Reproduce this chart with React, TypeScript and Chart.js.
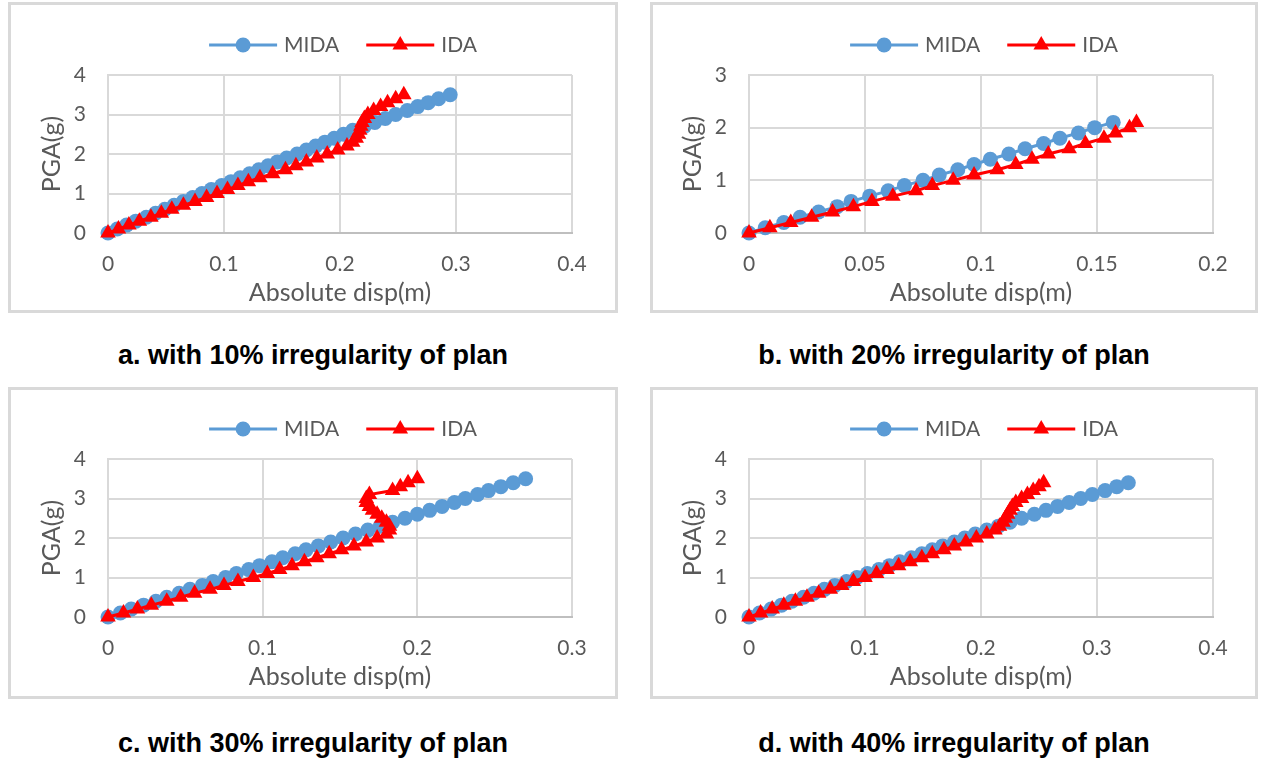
import React, { useEffect, useRef } from "react";
import { Chart, registerables } from "chart.js";

Chart.register(...registerables);

// ---- Data: PGA levels (g) and absolute displacement (m) per plan irregularity ----

const pgaA = [0, 0.1, 0.2, 0.3, 0.4, 0.5, 0.6, 0.7, 0.8, 0.9, 1, 1.1, 1.2, 1.3, 1.4, 1.5, 1.6, 1.7, 1.8, 1.9, 2, 2.1, 2.2, 2.3, 2.4, 2.5, 2.6, 2.7, 2.8, 2.9, 3, 3.1, 3.2, 3.3, 3.4, 3.5];
const midaDispA = [0, 0.008, 0.016, 0.024, 0.033, 0.041, 0.049, 0.057, 0.065, 0.073, 0.081, 0.089, 0.098, 0.106, 0.114, 0.122, 0.13, 0.138, 0.146, 0.154, 0.163, 0.171, 0.179, 0.187, 0.195, 0.203, 0.211, 0.221, 0.23, 0.239, 0.248, 0.258, 0.267, 0.276, 0.285, 0.295];
const idaDispA = [0, 0.009, 0.018, 0.027, 0.037, 0.046, 0.055, 0.065, 0.075, 0.085, 0.094, 0.103, 0.112, 0.121, 0.131, 0.142, 0.153, 0.162, 0.171, 0.18, 0.189, 0.198, 0.206, 0.211, 0.214, 0.216, 0.217, 0.218, 0.219, 0.221, 0.224, 0.229, 0.235, 0.241, 0.248, 0.255];

const pgaB = [0, 0.1, 0.2, 0.3, 0.4, 0.5, 0.6, 0.7, 0.8, 0.9, 1, 1.1, 1.2, 1.3, 1.4, 1.5, 1.6, 1.7, 1.8, 1.9, 2, 2.1];
const midaDispB = [0, 0.007, 0.015, 0.022, 0.03, 0.038, 0.044, 0.052, 0.06, 0.067, 0.075, 0.082, 0.09, 0.097, 0.104, 0.112, 0.119, 0.127, 0.134, 0.142, 0.149, 0.157];
const idaDispB = [0, 0.009, 0.018, 0.027, 0.036, 0.045, 0.053, 0.062, 0.072, 0.079, 0.088, 0.097, 0.107, 0.115, 0.122, 0.129, 0.138, 0.145, 0.153, 0.158, 0.164, 0.167];

const pgaC = [0, 0.1, 0.2, 0.3, 0.4, 0.5, 0.6, 0.7, 0.8, 0.9, 1, 1.1, 1.2, 1.3, 1.4, 1.5, 1.6, 1.7, 1.8, 1.9, 2, 2.1, 2.2, 2.3, 2.4, 2.5, 2.6, 2.7, 2.8, 2.9, 3, 3.1, 3.2, 3.3, 3.4, 3.5];
const midaDispC = [0, 0.008, 0.015, 0.023, 0.031, 0.038, 0.046, 0.053, 0.061, 0.068, 0.076, 0.083, 0.091, 0.098, 0.106, 0.113, 0.121, 0.128, 0.136, 0.144, 0.152, 0.16, 0.168, 0.176, 0.184, 0.192, 0.2, 0.208, 0.216, 0.224, 0.231, 0.239, 0.246, 0.254, 0.262, 0.27];
const idaDispC = [0, 0.01, 0.019, 0.028, 0.038, 0.047, 0.056, 0.066, 0.075, 0.084, 0.094, 0.103, 0.111, 0.119, 0.127, 0.135, 0.143, 0.151, 0.159, 0.167, 0.174, 0.18, 0.182, 0.182, 0.18, 0.177, 0.174, 0.171, 0.169, 0.167, 0.167, 0.169, 0.184, 0.189, 0.194, 0.2];

const pgaD = [0, 0.1, 0.2, 0.3, 0.4, 0.5, 0.6, 0.7, 0.8, 0.9, 1, 1.1, 1.2, 1.3, 1.4, 1.5, 1.6, 1.7, 1.8, 1.9, 2, 2.1, 2.2, 2.3, 2.4, 2.5, 2.6, 2.7, 2.8, 2.9, 3, 3.1, 3.2, 3.3, 3.4];
const midaDispD = [0, 0.009, 0.019, 0.028, 0.037, 0.047, 0.056, 0.065, 0.074, 0.084, 0.093, 0.102, 0.112, 0.121, 0.13, 0.14, 0.149, 0.158, 0.167, 0.177, 0.186, 0.195, 0.205, 0.215, 0.225, 0.235, 0.246, 0.256, 0.266, 0.276, 0.286, 0.296, 0.307, 0.317, 0.327];
const idaDispD = [0, 0.01, 0.02, 0.03, 0.04, 0.05, 0.06, 0.07, 0.08, 0.09, 0.1, 0.11, 0.119, 0.129, 0.139, 0.149, 0.158, 0.168, 0.177, 0.187, 0.196, 0.205, 0.212, 0.216, 0.219, 0.221, 0.223, 0.225, 0.227, 0.23, 0.235, 0.24, 0.245, 0.25, 0.254];

const seriesNames = ["MIDA", "IDA"];
const xAxisTitle = "Absolute disp(m)";
const yAxisTitle = "PGA(g)";
const captions = [
  "a. with 10% irregularity of plan",
  "b. with 20% irregularity of plan",
  "c. with 30% irregularity of plan",
  "d. with 40% irregularity of plan",
];

// ---- Styling ----
const FONT = "Lato, 'Open Sans', sans-serif";
const TICK_SIZE = 21;
const TITLE_SIZE = 25;
const TEXT_GRAY = "#595959";
const GRID_GRAY = "#d9d9d9";
const AXIS_GRAY = "#bfbfbf";
const BLUE = "#5b9bd5";
const RED = "#ff0000";
const FRAME_BORDER = 3;

type Box = { left: number; top: number; width: number; height: number };
type Area = { left: number; top: number; right: number; bottom: number };

type PanelSpec = {
  frame: Box;
  plot: Area;
  xMax: number;
  xStep: number;
  yMax: number;
  pga: number[];
  mida: number[];
  ida: number[];
  caption: string;
  captionY: number;
};

const panels: PanelSpec[] = [
  { frame: { left: 8, top: 2, width: 610, height: 311 }, plot: { left: 108, top: 75, right: 572, bottom: 233 }, xMax: 0.4, xStep: 0.1, yMax: 4, pga: pgaA, mida: midaDispA, ida: idaDispA, caption: captions[0], captionY: 355 },
  { frame: { left: 650, top: 2, width: 608, height: 311 }, plot: { left: 749, top: 75, right: 1213, bottom: 233 }, xMax: 0.2, xStep: 0.05, yMax: 3, pga: pgaB, mida: midaDispB, ida: idaDispB, caption: captions[1], captionY: 355 },
  { frame: { left: 8, top: 387, width: 610, height: 312 }, plot: { left: 108, top: 459, right: 572, bottom: 617 }, xMax: 0.3, xStep: 0.1, yMax: 4, pga: pgaC, mida: midaDispC, ida: idaDispC, caption: captions[2], captionY: 743 },
  { frame: { left: 650, top: 387, width: 608, height: 312 }, plot: { left: 749, top: 459, right: 1213, bottom: 617 }, xMax: 0.4, xStep: 0.1, yMax: 4, pga: pgaD, mida: midaDispD, ida: idaDispD, caption: captions[3], captionY: 743 },
];

// Legend drawn as an Excel-style key: a line segment with the marker in its middle.
function drawMarker(ctx: CanvasRenderingContext2D, style: string, x: number, y: number, r: number, color: string) {
  ctx.fillStyle = color;
  ctx.beginPath();
  if (style === "triangle") {
    let rad = 0;
    ctx.moveTo(x + Math.sin(rad) * r, y - Math.cos(rad) * r);
    rad += (2 * Math.PI) / 3;
    ctx.lineTo(x + Math.sin(rad) * r, y - Math.cos(rad) * r);
    rad += (2 * Math.PI) / 3;
    ctx.lineTo(x + Math.sin(rad) * r, y - Math.cos(rad) * r);
    ctx.closePath();
  } else {
    ctx.arc(x, y, r, 0, Math.PI * 2);
  }
  ctx.fill();
}

const seriesKeyPlugin = {
  id: "seriesKey",
  afterDraw(chart: any) {
    const { ctx, chartArea } = chart;
    const sets = chart.data.datasets as any[];
    const lineLen = 68;
    const gapText = 7;
    const gapItem = 27;
    ctx.save();
    ctx.font = `${TICK_SIZE}px ${FONT}`;
    const widths = sets.map((ds) => ctx.measureText(ds.label).width);
    const total = widths.reduce((s, w) => s + lineLen + gapText + w, 0) + gapItem * (sets.length - 1);
    let x = (chartArea.left + chartArea.right) / 2 + 3 - total / 2;
    const y = chartArea.top - 30;
    sets.forEach((ds, i) => {
      ctx.strokeStyle = ds.borderColor;
      ctx.lineWidth = ds.borderWidth;
      ctx.beginPath();
      ctx.moveTo(x, y);
      ctx.lineTo(x + lineLen, y);
      ctx.stroke();
      drawMarker(ctx, ds.pointStyle, x + lineLen / 2, y, ds.pointRadius, ds.pointBackgroundColor);
      ctx.fillStyle = TEXT_GRAY;
      ctx.textAlign = "left";
      ctx.textBaseline = "middle";
      ctx.fillText(ds.label, x + lineLen + gapText, y);
      x += lineLen + gapText + widths[i] + gapItem;
    });
    ctx.restore();
  },
};

const fmtTick = (v: any) => String(Number(Number(v).toFixed(3)));

function Panel({ spec }: { spec: PanelSpec }) {
  const canvasRef = useRef<HTMLCanvasElement | null>(null);
  const { frame, plot } = spec;
  const innerLeft = frame.left + FRAME_BORDER;
  const innerTop = frame.top + FRAME_BORDER;
  const innerW = frame.width - 2 * FRAME_BORDER;
  const innerH = frame.height - 2 * FRAME_BORDER;

  useEffect(() => {
    const canvas = canvasRef.current;
    if (!canvas) return;
    const titleHalf = (TITLE_SIZE * 1.2) / 2;
    const pl = plot.left - innerLeft;
    const pt = plot.top - innerTop;
    const pr = plot.right - innerLeft;
    const pb = plot.bottom - innerTop;
    const padLeft = plot.left - 56 - innerLeft - titleHalf;
    const yAxisW = pl - padLeft;
    const xAxisH = 60 + titleHalf;
    const padBottom = innerH - pb - xAxisH;
    const padRight = innerW - pr;

    const toPoints = (xs: number[]) => xs.map((x, i) => ({ x, y: spec.pga[i] }));

    const chart = new Chart(canvas, {
      type: "scatter",
      data: {
        datasets: [
          {
            label: seriesNames[0],
            data: toPoints(spec.mida),
            showLine: true,
            borderColor: BLUE,
            borderWidth: 3,
            pointStyle: "circle",
            pointRadius: 7.5,
            pointBackgroundColor: BLUE,
            pointBorderColor: BLUE,
            pointBorderWidth: 0,
            clip: false,
            order: 2,
          } as any,
          {
            label: seriesNames[1],
            data: toPoints(spec.ida),
            showLine: true,
            borderColor: RED,
            borderWidth: 3,
            pointStyle: "triangle",
            pointRadius: 9,
            pointBackgroundColor: RED,
            pointBorderColor: RED,
            pointBorderWidth: 0,
            clip: false,
            order: 1,
          } as any,
        ],
      },
      options: {
        responsive: false,
        animation: false,
        devicePixelRatio: 1,
        layout: { padding: { left: padLeft, top: pt, right: padRight, bottom: padBottom } },
        plugins: { legend: { display: false }, tooltip: { enabled: false } },
        scales: {
          x: {
            type: "linear",
            min: 0,
            max: spec.xMax,
            ticks: {
              stepSize: spec.xStep,
              padding: 19,
              color: TEXT_GRAY,
              font: { family: FONT, size: TICK_SIZE },
              callback: fmtTick,
              maxRotation: 0,
            },
            grid: { color: GRID_GRAY, lineWidth: 2, drawTicks: false },
            border: { color: AXIS_GRAY, width: 2 },
            title: { display: true, text: xAxisTitle, color: TEXT_GRAY, font: { family: FONT, size: TITLE_SIZE }, padding: 0 },
            afterFit: (s: any) => {
              s.height = xAxisH;
            },
          },
          y: {
            type: "linear",
            min: 0,
            max: spec.yMax,
            ticks: {
              stepSize: 1,
              padding: 22,
              color: TEXT_GRAY,
              font: { family: FONT, size: TICK_SIZE },
              callback: fmtTick,
            },
            grid: { color: GRID_GRAY, lineWidth: 2, drawTicks: false },
            border: { color: GRID_GRAY, width: 2 },
            title: { display: true, text: yAxisTitle, color: TEXT_GRAY, font: { family: FONT, size: TITLE_SIZE }, padding: 0 },
            afterFit: (s: any) => {
              s.width = yAxisW;
            },
          },
        },
      } as any,
      plugins: [seriesKeyPlugin],
    });

    let alive = true;
    if ((document as any).fonts) {
      (document as any).fonts.load(`${TICK_SIZE}px Lato`).then(() => {
        if (alive) chart.update();
      });
    }
    return () => {
      alive = false;
      chart.destroy();
    };
  }, [spec]);

  return (
    <>
      <div
        style={{
          position: "absolute",
          left: frame.left,
          top: frame.top,
          width: frame.width,
          height: frame.height,
          boxSizing: "border-box",
          border: `${FRAME_BORDER}px solid ${GRID_GRAY}`,
          background: "#fff",
        }}
      >
        <canvas ref={canvasRef} width={innerW} height={innerH} style={{ display: "block", width: innerW, height: innerH }} />
      </div>
      <div
        style={{
          position: "absolute",
          left: frame.left,
          width: frame.width,
          top: spec.captionY - 15,
          height: 30,
          lineHeight: "30px",
          textAlign: "center",
          fontFamily: "'Liberation Sans', Arial, sans-serif",
          fontWeight: "bold",
          fontSize: 27,
          color: "#000",
          whiteSpace: "nowrap",
        }}
      >
        {spec.caption}
      </div>
    </>
  );
}

export default function App() {
  return (
    <div style={{ position: "absolute", left: 0, top: 0, width: 1262, height: 758, background: "#fff" }}>
      {panels.map((p, i) => (
        <Panel key={i} spec={p} />
      ))}
    </div>
  );
}
